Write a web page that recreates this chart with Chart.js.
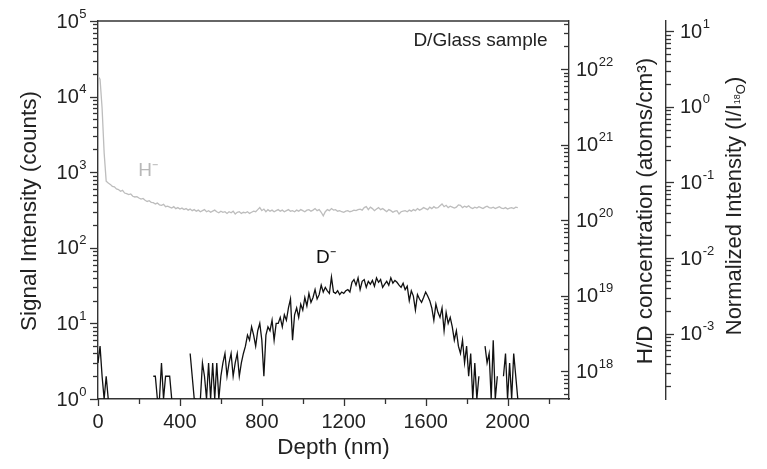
<!DOCTYPE html>
<html>
<head>
<meta charset="utf-8">
<script src="https://cdn.jsdelivr.net/npm/chart.js@4.4.0/dist/chart.umd.min.js"></script>
<style>
  html, body { margin: 0; padding: 0; background: #fff; }
</style>
</head>
<body>
<canvas id="depthChart" width="767" height="469"></canvas>
<script>
// depth in nm, 10 nm steps
const depthNm = [
  0, 10, 20, 30, 40, 50, 60, 70, 80, 90,
  100, 110, 120, 130, 140, 150, 160, 170, 180, 190,
  200, 210, 220, 230, 240, 250, 260, 270, 280, 290,
  300, 310, 320, 330, 340, 350, 360, 370, 380, 390,
  400, 410, 420, 430, 440, 450, 460, 470, 480, 490,
  500, 510, 520, 530, 540, 550, 560, 570, 580, 590,
  600, 610, 620, 630, 640, 650, 660, 670, 680, 690,
  700, 710, 720, 730, 740, 750, 760, 770, 780, 790,
  800, 810, 820, 830, 840, 850, 860, 870, 880, 890,
  900, 910, 920, 930, 940, 950, 960, 970, 980, 990,
  1000, 1010, 1020, 1030, 1040, 1050, 1060, 1070, 1080, 1090,
  1100, 1110, 1120, 1130, 1140, 1150, 1160, 1170, 1180, 1190,
  1200, 1210, 1220, 1230, 1240, 1250, 1260, 1270, 1280, 1290,
  1300, 1310, 1320, 1330, 1340, 1350, 1360, 1370, 1380, 1390,
  1400, 1410, 1420, 1430, 1440, 1450, 1460, 1470, 1480, 1490,
  1500, 1510, 1520, 1530, 1540, 1550, 1560, 1570, 1580, 1590,
  1600, 1610, 1620, 1630, 1640, 1650, 1660, 1670, 1680, 1690,
  1700, 1710, 1720, 1730, 1740, 1750, 1760, 1770, 1780, 1790,
  1800, 1810, 1820, 1830, 1840, 1850, 1860, 1870, 1880, 1890,
  1900, 1910, 1920, 1930, 1940, 1950, 1960, 1970, 1980, 1990,
  2000, 2010, 2020, 2030, 2040, 2050
];

// H- signal (counts)
const hCounts = [
  18500, 17000, 7000, 1800, 760, 720, 690, 650, 640, 600,
  590, 560, 575, 530, 520, 505, 515, 480, 470, 475,
  455, 440, 450, 425, 410, 420, 400, 395, 380, 390,
  370, 365, 375, 350, 355, 345, 335, 350, 330, 340,
  325, 335, 320, 330, 315, 325, 310, 320, 305, 315,
  300, 310, 320, 300, 310, 295, 305, 315, 300, 290,
  305, 295, 300, 285, 300, 290, 305, 280, 295, 300,
  285, 295, 290, 300, 285, 295, 305, 300, 320, 340,
  310, 325, 300, 320, 305, 315, 300, 310, 320, 305,
  315, 300, 310, 320, 305, 310, 300, 315, 305, 320,
  310, 300, 315, 320, 305, 315, 330, 310, 320, 295,
  265, 300, 320, 310, 330, 315, 320, 305, 310, 300,
  295, 305, 310, 300, 305, 315, 310, 320, 325, 315,
  340, 350, 320, 345, 330, 310, 325, 340, 320, 330,
  315, 300, 320, 310, 295, 305, 310, 280, 300, 305,
  310, 300, 315, 305, 320, 310, 330, 315, 325, 340,
  330, 320, 345, 330, 350, 335, 340, 360, 380, 350,
  365, 340, 355, 345, 335, 345, 370, 365, 340, 355,
  345, 360, 340, 330, 345, 335, 350, 340, 330, 345,
  355, 340, 335, 345, 330, 340, 350, 335, 330, 340,
  325, 335, 340, 330, 345, 340
];

// D- signal (counts), null = zero counts
const dCounts = [
  3, 5, 2, 1, 2, 1, null, null, null, null,
  null, null, null, null, null, null, null, null, null, null,
  null, null, null, null, null, null, null, 2, 2, 1,
  1, 3, 1, 2, 2, 2, 1, null, null, null,
  null, null, null, null, null, 4, 2, 1, 1, null,
  1, 3, 2, 1, 3, 1, 3, 1, 3, 1,
  2, 3, 4, 2, 3, 4, 2, 3, 4, 2,
  3, 4, 5, 7, 6, 9, 7, 5, 8, 10,
  6, 2, 7, 9, 8, 11, 6, 10, 10, 12,
  9, 13, 11, 16, 21, 6, 13, 16, 12, 18,
  15, 22, 17, 25, 19, 22, 28, 21, 24, 32,
  26, 30, 27, 25, 41, 26, 25, 27, 24, 26,
  25, 27, 28, 26, 35, 38, 32, 40, 28, 36,
  38, 30, 36, 33, 37, 31, 40, 35, 38, 30,
  33, 36, 32, 40, 34, 37, 35, 32, 30, 34,
  28, 31, 20, 27, 23, 15, 24, 21, 19, 22,
  26, 23, 20, 16, 11, 18, 14, 12, 16, 8,
  14, 10, 12, 9, 6, 8, 5, 4, 6, 3,
  5, 2, 4, 1, 3, 1, 2, null, null, 5,
  3, 4, 1, 6, 1, 2, null, null, 2, 4,
  1, 3, 1, 4, 2, 1
];

const depthTicks = [0, 400, 800, 1200, 1600, 2000];
const countTicks = [1, 10, 100, 1000, 10000, 100000];
const concTicks = [1e18, 1e19, 1e20, 1e21, 1e22];
const normTicks = [1e-3, 1e-2, 1e-1, 1, 10];

// conversion of the counts axis to the two right axes
const concPerCount = 4.32e17;
const normPerCount = 1.365e-4;

const fontFamily = "'Liberation Sans', Arial, Helvetica, sans-serif";
const textColor = '#222';
const axisColor = '#333';

function logAxis(min, max, tickList, pos, width, weight) {
  return {
    type: 'logarithmic',
    position: pos,
    weight: weight,
    min: min,
    max: max,
    afterBuildTicks: s => { s.ticks = tickList.map(v => ({ value: v })); },
    afterFit: s => { s.width = width; },
    grid: { display: false, drawTicks: false },
    border: { display: true, color: axisColor, width: 1.4 },
    ticks: { display: false }
  };
}

function line(ctx, x1, y1, x2, y2) {
  ctx.beginPath();
  ctx.moveTo(x1, y1);
  ctx.lineTo(x2, y2);
  ctx.stroke();
}

function logTickMarks(ctx, scale, x0, dir) {
  const lo = Math.floor(Math.log10(scale.min));
  const hi = Math.ceil(Math.log10(scale.max));
  for (let e = lo; e <= hi; e++) {
    for (let m = 1; m < 10; m++) {
      const v = m * Math.pow(10, e);
      if (v < scale.min * 0.999 || v > scale.max * 1.001) continue;
      const py = Math.round(scale.getPixelForValue(v)) + 0.5;
      line(ctx, x0, py, x0 + dir * (m === 1 ? 8 : 5), py);
    }
  }
}

// "10" with a raised exponent
function powerLabels(ctx, scale, tickList, x, align) {
  tickList.forEach(v => {
    const e = String(Math.round(Math.log10(v)));
    const y = scale.getPixelForValue(v);
    ctx.font = '20px ' + fontFamily;
    const wb = ctx.measureText('10').width;
    ctx.font = '13px ' + fontFamily;
    const we = ctx.measureText(e).width;
    const x0 = align === 'right' ? x - wb - we : x;
    ctx.textAlign = 'left';
    ctx.textBaseline = 'middle';
    ctx.font = '20px ' + fontFamily;
    ctx.fillText('10', x0, y + 1);
    ctx.font = '13px ' + fontFamily;
    ctx.fillText(e, x0 + wb + 0.5, y - 7);
  });
}

function rotatedText(ctx, parts, cx, cy) {
  ctx.save();
  ctx.translate(cx, cy);
  ctx.rotate(-Math.PI / 2);
  let total = 0;
  parts.forEach(p => { ctx.font = p[1] + 'px ' + fontFamily; total += ctx.measureText(p[0]).width; });
  let x = -total / 2;
  ctx.textAlign = 'left';
  ctx.textBaseline = 'middle';
  parts.forEach(p => {
    ctx.font = p[1] + 'px ' + fontFamily;
    ctx.fillText(p[0], x, p[2]);
    x += ctx.measureText(p[0]).width;
  });
  ctx.restore();
}

const framePlugin = {
  id: 'frame',
  afterDraw(chart) {
    const { ctx, chartArea: a, scales } = chart;
    ctx.save();
    ctx.strokeStyle = axisColor;
    ctx.lineWidth = 1.4;
    line(ctx, a.left, a.top, a.right, a.top);
    ctx.lineWidth = 1.3;
    for (let v = 0; v <= 2300; v += 200) {
      const px = Math.round(scales.x.getPixelForValue(v)) + 0.5;
      line(ctx, px, a.bottom, px, a.bottom + (v % 400 === 0 ? 7 : 5));
    }
    logTickMarks(ctx, scales.y, scales.y.right, -1);
    logTickMarks(ctx, scales.conc, scales.conc.left, -1);
    logTickMarks(ctx, scales.norm, scales.norm.left, 1);

    ctx.fillStyle = textColor;
    powerLabels(ctx, scales.y, countTicks, scales.y.right - 12, 'right');
    powerLabels(ctx, scales.conc, concTicks, scales.conc.left + 7, 'left');
    powerLabels(ctx, scales.norm, normTicks, scales.norm.left + 14, 'left');

    ctx.font = '22.5px ' + fontFamily;
    ctx.textAlign = 'center';
    ctx.textBaseline = 'middle';
    ctx.fillText('Depth (nm)', (a.left + a.right) / 2, 448);
    rotatedText(ctx, [['Signal Intensity (counts)', 22.5, 0]], 30, 211);
    rotatedText(ctx, [['H/D concentration (atoms/cm³)', 22.5, 0]], 646, 211);
    rotatedText(ctx, [['Normalized Intensity (I/I', 22, 0], ['18', 9, 3], ['O', 13, 6], [')', 22, 0]], 735, 206);

    // in-plot labels, placed in data coordinates
    ctx.font = '19px ' + fontFamily;
    ctx.textAlign = 'right';
    ctx.fillText('D/Glass sample', scales.x.getPixelForValue(2195), scales.y.getPixelForValue(55000));
    ctx.textAlign = 'center';
    ctx.fillStyle = '#b8b8b8';
    ctx.fillText('H⁻', scales.x.getPixelForValue(245), scales.y.getPixelForValue(1060));
    ctx.fillStyle = '#111';
    ctx.fillText('D⁻', scales.x.getPixelForValue(1113), scales.y.getPixelForValue(73));
    ctx.restore();
  }
};

new Chart(document.getElementById('depthChart'), {
  type: 'line',
  data: {
    datasets: [
      {
        label: 'H-',
        data: depthNm.map((d, i) => ({ x: d, y: hCounts[i] })),
        borderColor: '#bdbdbd',
        borderWidth: 1.3,
        pointRadius: 0,
        yAxisID: 'y'
      },
      {
        label: 'D-',
        data: depthNm.map((d, i) => ({ x: d, y: dCounts[i] })),
        borderColor: '#111',
        borderWidth: 1.3,
        pointRadius: 0,
        spanGaps: false,
        yAxisID: 'y'
      }
    ]
  },
  options: {
    responsive: false,
    animation: false,
    layout: { padding: { top: 21, left: 0, right: 0, bottom: 0 } },
    plugins: {
      legend: { display: false },
      tooltip: { enabled: false }
    },
    scales: {
      x: {
        type: 'linear',
        min: 0,
        max: 2300,
        afterBuildTicks: s => { s.ticks = depthTicks.map(v => ({ value: v })); },
        afterFit: s => { s.height = 70; },
        grid: { display: false, drawTicks: false },
        border: { display: true, color: axisColor, width: 1.4 },
        ticks: {
          padding: 11,
          maxRotation: 0,
          color: textColor,
          font: { family: fontFamily, size: 20 },
          callback: v => String(v)
        }
      },
      y: logAxis(1, 1e5, countTicks, 'left', 98, 0),
      conc: logAxis(concPerCount, concPerCount * 1e5, concTicks, 'right', 97, 1),
      norm: logAxis(normPerCount, normPerCount * 1e5, normTicks, 'right', 101, 2)
    }
  },
  plugins: [framePlugin]
});
</script>
</body>
</html>
